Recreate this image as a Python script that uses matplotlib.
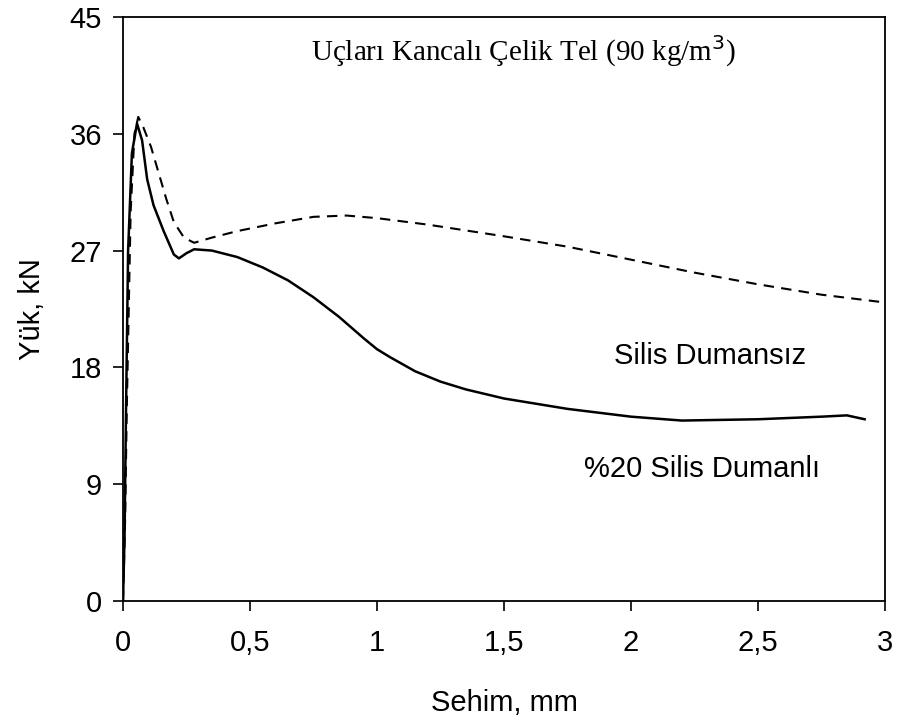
"""Load-deflection curves for hooked-end steel fibre concrete (90 kg/m3)."""

import matplotlib
matplotlib.use("Agg")
import matplotlib.pyplot as plt

# Silis dumanli (%20) - solid line
x_sd = [0.0, 0.006, 0.012, 0.02, 0.035, 0.055, 0.075, 0.095, 0.12, 0.16,
        0.2, 0.22, 0.25, 0.28, 0.35, 0.45, 0.55, 0.65, 0.75, 0.85, 0.95,
        1.0, 1.05, 1.15, 1.25, 1.35, 1.5, 1.75, 2.0, 2.2, 2.5, 2.75, 2.85, 2.92]
y_sd = [0.0, 5.0, 15.0, 27.0, 34.5, 36.8, 35.5, 32.5, 30.5, 28.5,
        26.7, 26.4, 26.8, 27.1, 27.0, 26.5, 25.7, 24.7, 23.4, 21.9, 20.2,
        19.4, 18.8, 17.7, 16.9, 16.3, 15.6, 14.8, 14.2, 13.9, 14.0, 14.2, 14.3, 14.0]

# Silis dumansiz - dashed line
x_nd = [0.0, 0.008, 0.015, 0.03, 0.045, 0.06, 0.08, 0.11, 0.14, 0.17,
        0.2, 0.24, 0.28, 0.35, 0.45, 0.6, 0.75, 0.88, 1.0, 1.2,
        1.5, 1.75, 2.0, 2.25, 2.5, 2.75, 3.0]
y_nd = [0.0, 6.0, 15.0, 30.0, 36.0, 37.3, 36.5, 35.0, 33.0, 31.0,
        29.2, 28.0, 27.6, 28.0, 28.5, 29.1, 29.6, 29.7, 29.5, 29.0,
        28.1, 27.3, 26.3, 25.3, 24.4, 23.6, 23.0]

x_ticks = [0, 0.5, 1, 1.5, 2, 2.5, 3]
x_tick_labels = ["0", "0,5", "1", "1,5", "2", "2,5", "3"]
y_ticks = [0, 9, 18, 27, 36, 45]

plt.rcParams["font.family"] = ["Liberation Sans", "DejaVu Sans"]

fig = plt.figure(figsize=(8.98, 7.24), dpi=100)
ax = fig.add_axes([0.137, 0.170, 0.8485, 0.8065])

ax.plot(x_sd, y_sd, color="black", lw=1.8, solid_joinstyle="round")
ax.plot(x_nd, y_nd, color="black", lw=1.5, linestyle=(0, (5, 3.5)))

ax.set_xlim(0, 3)
ax.set_ylim(0, 45)
ax.set_xticks(x_ticks)
ax.set_xticklabels(x_tick_labels)
ax.set_yticks(y_ticks)
ax.tick_params(direction="out", length=7, width=1.2, labelsize=21,
               colors="black")
ax.tick_params(axis="x", pad=13)
ax.tick_params(axis="y", pad=8)
for sp in ax.spines.values():
    sp.set_linewidth(1.3)

ax.set_xlabel("Sehim, mm", fontsize=21, labelpad=23)
ax.set_ylabel("Yük, kN", fontsize=21, labelpad=17)

ax.text(1.575, 42.4, "Uçları Kancalı Çelik Tel (90 kg/m$^3$)",
        family=["Liberation Serif", "DejaVu Serif"], fontsize=21,
        ha="center", va="center")
ax.text(2.31, 18.9, "Silis Dumansız", fontsize=21, ha="center", va="center")
ax.text(2.28, 10.2, "%20 Silis Dumanlı", fontsize=21, ha="center", va="center")

fig.savefig("out.png", dpi=100)
